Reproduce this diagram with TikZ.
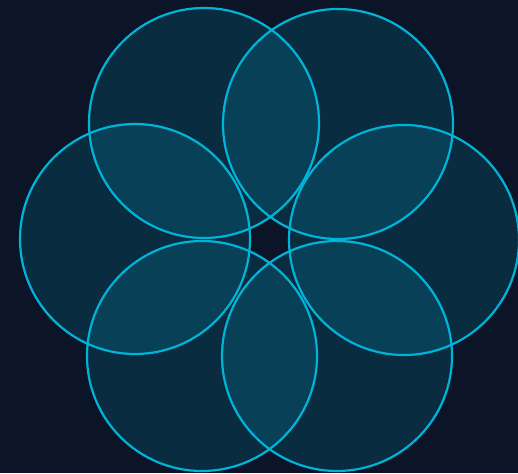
\documentclass[tikz,border=0pt]{standalone}
\definecolor{bgc}{HTML}{0B1527}
\definecolor{cy}{HTML}{00B4D8}
\begin{document}
\begin{tikzpicture}[x=1pt,y=-1pt,
  petal/.style={draw=cy,line width=2.2pt,fill=cy,fill opacity=0.15,draw opacity=1}]
\fill[bgc] (0,0) rectangle (518,473);
\useasboundingbox (0,0) rectangle (518,473);
\draw[petal] (204,123) circle[radius=115];
\draw[petal] (338,124) circle[radius=115];
\draw[petal] (135,239) circle[radius=115];
\draw[petal] (404,240) circle[radius=115];
\draw[petal] (202,356) circle[radius=115];
\draw[petal] (337,356) circle[radius=115];
\end{tikzpicture}
\end{document}
